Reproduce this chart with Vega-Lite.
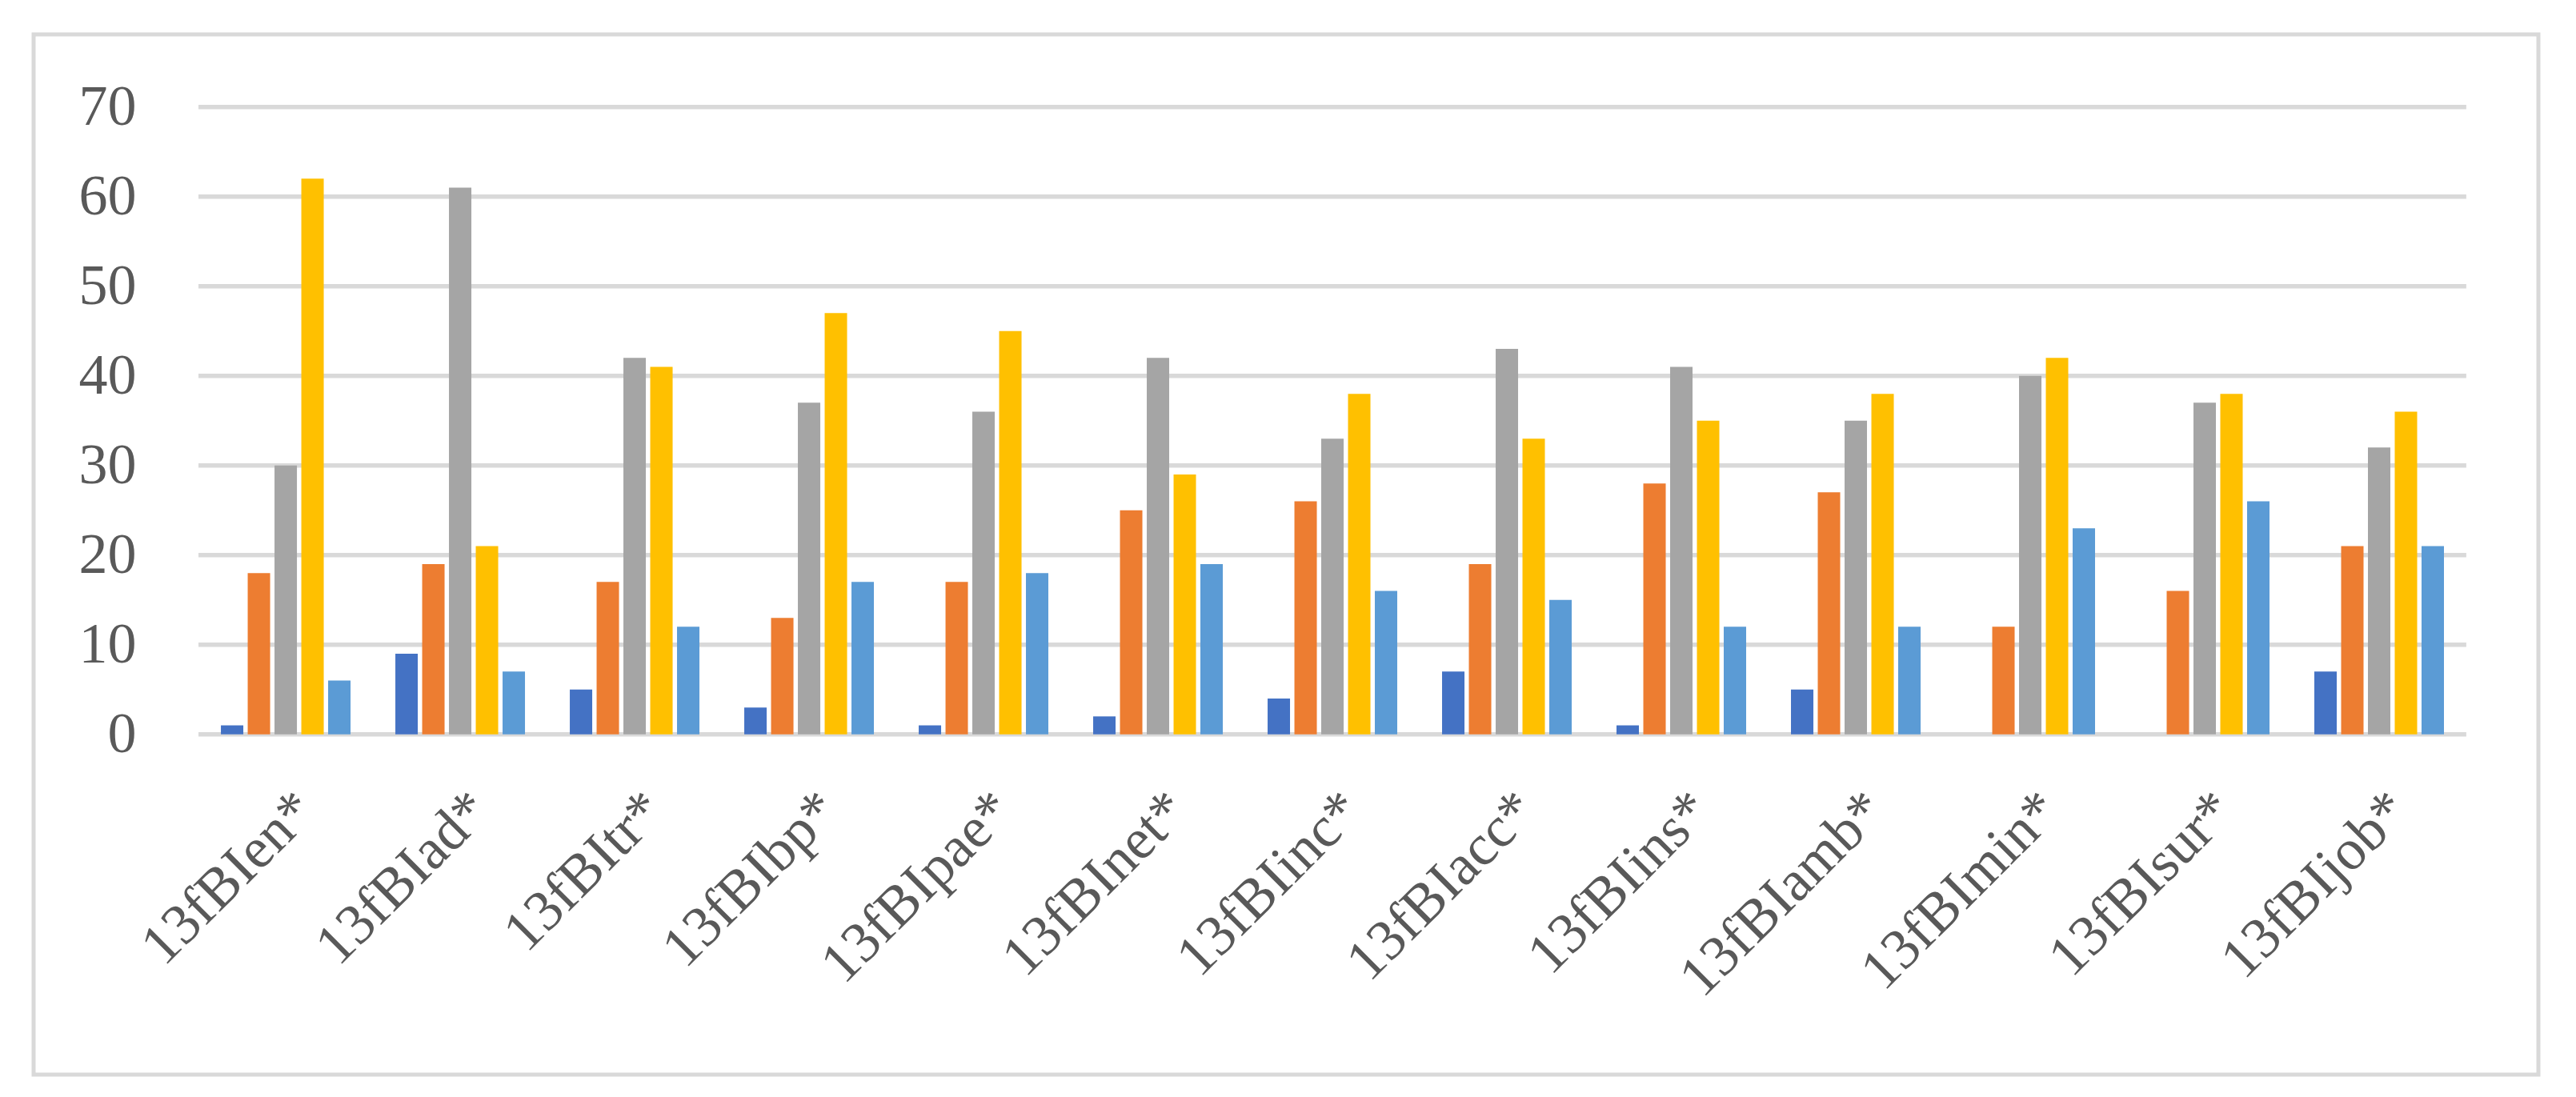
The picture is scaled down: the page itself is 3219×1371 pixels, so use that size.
{
  "$schema": "https://vega.github.io/schema/vega-lite/v6.json",
  "autosize": "none",
  "width": 3130,
  "height": 1300,
  "padding": {"left": 42, "top": 43, "right": 47, "bottom": 28},
  "background": "white",
  "config": {
    "view": {"stroke": "#D9D9D9", "strokeWidth": 5},
    "font": "Liberation Serif"
  },
  "datasets": {
    "bars": [
      {"cat": "13fBIen*", "series": "Series 1", "value": 1},
      {"cat": "13fBIen*", "series": "Series 2", "value": 18},
      {"cat": "13fBIen*", "series": "Series 3", "value": 30},
      {"cat": "13fBIen*", "series": "Series 4", "value": 62},
      {"cat": "13fBIen*", "series": "Series 5", "value": 6},
      {"cat": "13fBIad*", "series": "Series 1", "value": 9},
      {"cat": "13fBIad*", "series": "Series 2", "value": 19},
      {"cat": "13fBIad*", "series": "Series 3", "value": 61},
      {"cat": "13fBIad*", "series": "Series 4", "value": 21},
      {"cat": "13fBIad*", "series": "Series 5", "value": 7},
      {"cat": "13fBItr*", "series": "Series 1", "value": 5},
      {"cat": "13fBItr*", "series": "Series 2", "value": 17},
      {"cat": "13fBItr*", "series": "Series 3", "value": 42},
      {"cat": "13fBItr*", "series": "Series 4", "value": 41},
      {"cat": "13fBItr*", "series": "Series 5", "value": 12},
      {"cat": "13fBIbp*", "series": "Series 1", "value": 3},
      {"cat": "13fBIbp*", "series": "Series 2", "value": 13},
      {"cat": "13fBIbp*", "series": "Series 3", "value": 37},
      {"cat": "13fBIbp*", "series": "Series 4", "value": 47},
      {"cat": "13fBIbp*", "series": "Series 5", "value": 17},
      {"cat": "13fBIpae*", "series": "Series 1", "value": 1},
      {"cat": "13fBIpae*", "series": "Series 2", "value": 17},
      {"cat": "13fBIpae*", "series": "Series 3", "value": 36},
      {"cat": "13fBIpae*", "series": "Series 4", "value": 45},
      {"cat": "13fBIpae*", "series": "Series 5", "value": 18},
      {"cat": "13fBInet*", "series": "Series 1", "value": 2},
      {"cat": "13fBInet*", "series": "Series 2", "value": 25},
      {"cat": "13fBInet*", "series": "Series 3", "value": 42},
      {"cat": "13fBInet*", "series": "Series 4", "value": 29},
      {"cat": "13fBInet*", "series": "Series 5", "value": 19},
      {"cat": "13fBIinc*", "series": "Series 1", "value": 4},
      {"cat": "13fBIinc*", "series": "Series 2", "value": 26},
      {"cat": "13fBIinc*", "series": "Series 3", "value": 33},
      {"cat": "13fBIinc*", "series": "Series 4", "value": 38},
      {"cat": "13fBIinc*", "series": "Series 5", "value": 16},
      {"cat": "13fBIacc*", "series": "Series 1", "value": 7},
      {"cat": "13fBIacc*", "series": "Series 2", "value": 19},
      {"cat": "13fBIacc*", "series": "Series 3", "value": 43},
      {"cat": "13fBIacc*", "series": "Series 4", "value": 33},
      {"cat": "13fBIacc*", "series": "Series 5", "value": 15},
      {"cat": "13fBIins*", "series": "Series 1", "value": 1},
      {"cat": "13fBIins*", "series": "Series 2", "value": 28},
      {"cat": "13fBIins*", "series": "Series 3", "value": 41},
      {"cat": "13fBIins*", "series": "Series 4", "value": 35},
      {"cat": "13fBIins*", "series": "Series 5", "value": 12},
      {"cat": "13fBIamb*", "series": "Series 1", "value": 5},
      {"cat": "13fBIamb*", "series": "Series 2", "value": 27},
      {"cat": "13fBIamb*", "series": "Series 3", "value": 35},
      {"cat": "13fBIamb*", "series": "Series 4", "value": 38},
      {"cat": "13fBIamb*", "series": "Series 5", "value": 12},
      {"cat": "13fBImin*", "series": "Series 1", "value": 0},
      {"cat": "13fBImin*", "series": "Series 2", "value": 12},
      {"cat": "13fBImin*", "series": "Series 3", "value": 40},
      {"cat": "13fBImin*", "series": "Series 4", "value": 42},
      {"cat": "13fBImin*", "series": "Series 5", "value": 23},
      {"cat": "13fBIsur*", "series": "Series 1", "value": 0},
      {"cat": "13fBIsur*", "series": "Series 2", "value": 16},
      {"cat": "13fBIsur*", "series": "Series 3", "value": 37},
      {"cat": "13fBIsur*", "series": "Series 4", "value": 38},
      {"cat": "13fBIsur*", "series": "Series 5", "value": 26},
      {"cat": "13fBIjob*", "series": "Series 1", "value": 7},
      {"cat": "13fBIjob*", "series": "Series 2", "value": 21},
      {"cat": "13fBIjob*", "series": "Series 3", "value": 32},
      {"cat": "13fBIjob*", "series": "Series 4", "value": 36},
      {"cat": "13fBIjob*", "series": "Series 5", "value": 21}
    ],
    "grid": [
      {"v": 0}, {"v": 10}, {"v": 20}, {"v": 30}, {"v": 40}, {"v": 50}, {"v": 60}, {"v": 70}
    ]
  },
  "layer": [
    {
      "data": {"name": "grid"},
      "mark": {"type": "rule", "stroke": "#D9D9D9", "strokeWidth": 5.5},
      "encoding": {
        "y": {"field": "v", "type": "quantitative",
              "scale": {"domain": [-37.97, 78.1], "nice": false, "zero": false},
              "axis": {"values": [0, 10, 20, 30, 40, 50, 60, 70], "title": null, "domain": false, "ticks": false, "tickSize": 0, "grid": false,
                       "labelFont": "Liberation Serif", "labelFontSize": 72, "labelColor": "#595959", "labelPadding": 0, "offset": -128, "labelAlign": "right", "labelBaseline": "middle"}},
        "x": {"datum": 0, "type": "quantitative", "scale": {"domain": [-0.0727, 1.0318], "nice": false, "zero": false}, "axis": null},
        "x2": {"datum": 1}
      }
    },
    {
      "data": {"name": "bars"},
      "mark": {"type": "bar"},
      "encoding": {
        "x": {"field": "cat", "type": "nominal", "sort": null,
              "scale": {"paddingInner": 0, "paddingOuter": 0.679, "align": 0.696},
              "axis": {"title": null, "domain": false, "ticks": false, "tickSize": 0, "grid": false, "offset": -425,
                       "labelAngle": -45, "labelAlign": "right", "labelBaseline": "top", "labelPadding": 58,
                       "labelFont": "Liberation Serif", "labelFontSize": 72, "labelColor": "#595959", "labelLimit": 0}},
        "xOffset": {"field": "series", "type": "nominal", "sort": null,
                    "scale": {"paddingInner": 0.164, "paddingOuter": 0.836}},
        "y": {"field": "value", "type": "quantitative",
              "scale": {"domain": [-37.97, 78.1], "nice": false, "zero": false},
              "axis": {"values": [0, 10, 20, 30, 40, 50, 60, 70], "title": null, "domain": false, "ticks": false, "tickSize": 0, "grid": false,
                       "labelFont": "Liberation Serif", "labelFontSize": 72, "labelColor": "#595959", "labelPadding": 0, "offset": -128, "labelAlign": "right", "labelBaseline": "middle"}},
        "color": {"field": "series", "type": "nominal", "sort": null,
                  "scale": {"domain": ["Series 1", "Series 2", "Series 3", "Series 4", "Series 5"],
                            "range": ["#4472C4", "#ED7D31", "#A5A5A5", "#FFC000", "#5B9BD5"]},
                  "legend": null}
      }
    }
  ],
  "resolve": {"scale": {"x": "independent"}, "axis": {"x": "independent"}}
}
